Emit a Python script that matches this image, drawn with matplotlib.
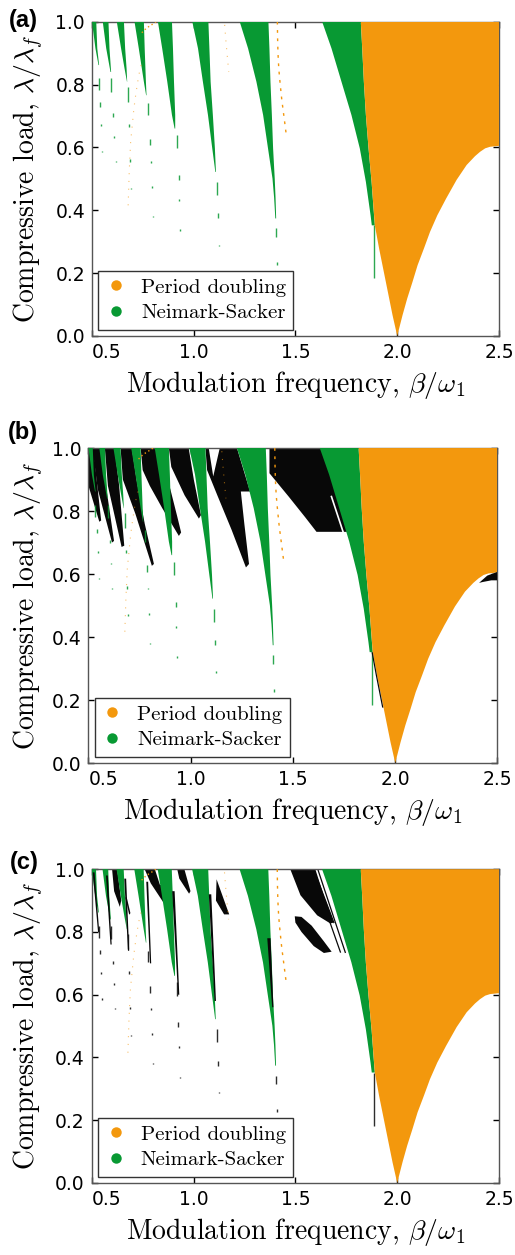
import matplotlib
matplotlib.use('Agg')
import matplotlib.pyplot as plt
from matplotlib.lines import Line2D

plt.rcParams['mathtext.fontset'] = 'cm'

ORANGE = '#f3980d'
GREEN = '#089933'
BLACK = '#080808'

# --- period doubling tongue around beta/omega1 = 2 ---
pd_left_y = [1.0, 0.915, 0.809, 0.703, 0.597, 0.49, 0.352, 0.278, 0.172, 0.066, 0.0]
pd_left_x = [1.821, 1.828, 1.836, 1.846, 1.859, 1.874, 1.890, 1.911, 1.944, 1.977, 2.0]
pd_right_y = [0.0, 0.066, 0.119, 0.172, 0.225, 0.278, 0.331, 0.384, 0.437, 0.497,
              0.544, 0.572, 0.586, 0.597, 0.602, 0.605]
pd_right_x = [2.0, 2.026, 2.049, 2.075, 2.100, 2.131, 2.161, 2.197, 2.240, 2.292,
              2.341, 2.382, 2.407, 2.432, 2.456, 2.5]

# --- Neimark-Sacker tongues: (load levels, left edge, right edge) ---
ns_y = [
    [1.0, 0.915, 0.809, 0.703, 0.597, 0.49, 0.384, 0.352],
    [1.0, 0.915, 0.809, 0.703, 0.597, 0.501, 0.44, 0.374],
    [1.0, 0.915, 0.809, 0.703, 0.597, 0.538, 0.522],
    [1.0, 0.915, 0.809, 0.703, 0.66],
    [1.0, 0.915, 0.809, 0.766],
    [1.0, 0.915, 0.851, 0.809],
    [1.0, 0.915, 0.84],
    [1.0, 0.915, 0.862],
]
ns_left = [
    [1.631, 1.677, 1.726, 1.775, 1.816, 1.846, 1.869, 1.875],
    [1.226, 1.267, 1.308, 1.341, 1.365, 1.387, 1.395, 1.401],
    [0.993, 1.021, 1.045, 1.070, 1.091, 1.103, 1.106],
    [0.824, 0.845, 0.870, 0.893, 0.906],
    [0.709, 0.730, 0.755, 0.766],
    [0.622, 0.643, 0.660, 0.672],
    [0.553, 0.570, 0.591],
    [0.500, 0.517, 0.532],
]
ns_right = [
    [1.821, 1.828, 1.836, 1.846, 1.859, 1.874, 1.886, 1.890],
    [1.367, 1.372, 1.377, 1.384, 1.390, 1.398, 1.402, 1.405],
    [1.072, 1.077, 1.083, 1.094, 1.104, 1.108, 1.109],
    [0.893, 0.898, 0.903, 0.909, 0.909],
    [0.755, 0.759, 0.765, 0.768],
    [0.657, 0.663, 0.670, 0.673],
    [0.581, 0.586, 0.594],
    [0.521, 0.526, 0.535],
]

# broken continuation of the tongues below their tips
dash_x = [1.884, 1.403, 1.408, 1.116, 1.119, 1.124, 0.918, 0.926, 0.929, 0.934,
          0.775, 0.786, 0.791, 0.796, 0.800, 0.678, 0.683, 0.688, 0.694,
          0.594, 0.603, 0.609, 0.616, 0.534, 0.540, 0.545, 0.550]
dash_top = [0.352, 0.342, 0.236, 0.49, 0.39, 0.291, 0.639, 0.512, 0.435, 0.339,
            0.74, 0.628, 0.557, 0.477, 0.381, 0.793, 0.676, 0.562, 0.472,
            0.82, 0.708, 0.636, 0.557, 0.82, 0.743, 0.673, 0.589]
dash_bot = [0.183, 0.315, 0.225, 0.448, 0.374, 0.287, 0.597, 0.496, 0.429, 0.335,
            0.703, 0.607, 0.551, 0.471, 0.378, 0.745, 0.666, 0.554, 0.467,
            0.777, 0.697, 0.631, 0.553, 0.782, 0.729, 0.667, 0.584]

# faint period doubling traces
pd_trace1_x = [1.411, 1.412, 1.414, 1.418, 1.425, 1.433, 1.443, 1.456]
pd_trace1_y = [1.0, 0.95, 0.90, 0.85, 0.80, 0.75, 0.70, 0.634]
pd_trace2_x = [0.742, 0.730, 0.717, 0.706, 0.698, 0.690, 0.683, 0.677]
pd_trace2_y = [0.862, 0.83, 0.777, 0.724, 0.671, 0.618, 0.522, 0.40]
pd_trace3_x = [1.152, 1.158, 1.165, 1.172]
pd_trace3_y = [0.99, 0.94, 0.89, 0.84]
pd_arc_x = [0.745, 0.76, 0.78, 0.80, 0.815]
pd_arc_y = [0.965, 0.975, 0.985, 0.993, 1.0]

# --- black regions, panel (b) ---
b_big = [(1.385, 1.0), (1.70, 1.0), (1.80, 0.734), (1.615, 0.734), (1.56, 0.78),
         (1.48, 0.845), (1.385, 0.92)]
b_w8 = [(0.5, 1.0), (0.525, 1.0), (0.54, 0.90), (0.562, 0.77), (0.553, 0.766),
        (0.5, 0.88)]
b_w7 = [(0.52, 1.0), (0.565, 1.0), (0.59, 0.86), (0.625, 0.705), (0.615, 0.70),
        (0.545, 0.87)]
b_w6 = [(0.58, 1.0), (0.628, 1.0), (0.65, 0.88), (0.675, 0.69), (0.662, 0.686),
        (0.595, 0.88)]
b_wd = [(0.657, 1.0), (0.712, 1.0), (0.735, 0.90), (0.775, 0.76), (0.82, 0.632),
        (0.81, 0.626), (0.73, 0.79), (0.668, 0.90)]
b_wa = [(0.755, 1.0), (0.83, 1.0), (0.90, 0.87), (0.935, 0.78), (0.953, 0.732),
        (0.942, 0.721), (0.86, 0.81), (0.80, 0.88), (0.765, 0.93)]
b_wb = [(0.893, 1.0), (0.99, 1.0), (1.015, 0.90), (1.05, 0.787), (1.04, 0.776),
        (0.97, 0.85), (0.905, 0.94)]
b_wc = [(1.072, 1.0), (1.226, 1.0), (1.29, 0.862), (1.245, 0.862), (1.262, 0.76),
        (1.285, 0.632), (1.27, 0.621), (1.20, 0.74), (1.13, 0.85), (1.08, 0.93)]
b_notch = [(1.088, 1.0), (1.142, 1.0), (1.11, 0.91)]
b_crescent = [(2.41, 0.572), (2.45, 0.595), (2.5, 0.607), (2.5, 0.58), (2.47, 0.58),
              (2.43, 0.575)]
b_sliver = [(1.890, 0.352), (1.911, 0.278), (1.942, 0.176), (1.936, 0.176),
            (1.905, 0.278), (1.884, 0.352)]

# --- black regions, panel (c) ---
c_top = [(1.475, 1.0), (1.598, 1.0), (1.639, 0.917), (1.672, 0.86), (1.688, 0.83),
         (1.672, 0.827), (1.607, 0.853), (1.525, 0.917)]
c_blob = [(1.497, 0.85), (1.53, 0.848), (1.58, 0.82), (1.64, 0.77), (1.678, 0.737),
          (1.64, 0.733), (1.59, 0.755), (1.53, 0.80), (1.50, 0.83)]
c_tri = [(1.113, 0.968), (1.175, 0.856), (1.15, 0.856), (1.110, 0.90)]
c_line1 = [(1.607, 0.97), (1.689, 0.83)]
c_line2 = [(1.623, 0.917), (1.721, 0.736)]
c_line3 = [(1.61, 1.0), (1.745, 0.735)]
c_strip2 = [(1.362, 0.78), (1.378, 0.78), (1.392, 0.56), (1.386, 0.56)]
c_strip3 = [(1.075, 0.92), (1.087, 0.92), (1.11, 0.58), (1.103, 0.58)]
c_strip4 = [(0.895, 0.93), (0.907, 0.93), (0.93, 0.60), (0.924, 0.60)]
c_strip5 = [(0.768, 0.96), (0.777, 0.96), (0.792, 0.70), (0.786, 0.70)]
c_strip6 = [(0.66, 0.97), (0.669, 0.97), (0.684, 0.74), (0.678, 0.74)]
c_strip7 = [(0.57, 0.98), (0.579, 0.98), (0.598, 0.76), (0.592, 0.76)]
c_strip8 = [(0.505, 0.99), (0.514, 0.99), (0.537, 0.80), (0.531, 0.80)]
c_wedge1 = [(0.60, 1.0), (0.625, 1.0), (0.645, 0.90), (0.638, 0.88), (0.61, 0.93)]
c_wedge2 = [(0.76, 1.0), (0.81, 1.0), (0.86, 0.90), (0.853, 0.893), (0.79, 0.955)]
c_wedge3 = [(0.92, 1.0), (0.955, 1.0), (0.985, 0.93), (0.978, 0.922), (0.93, 0.97)]
c_wedge4 = [(0.665, 0.91), (0.672, 0.91), (0.69, 0.86), (0.684, 0.855)]
c_wedge5 = [(0.83, 0.95), (0.84, 0.95), (0.875, 0.88), (0.868, 0.876)]

panel_tags = ['(a)', '(b)', '(c)']
tag_pos = [(9, 9), (8, 421), (10, 851)]
boxes = [[0.1786, 0.7323, 0.7903, 0.2504],
         [0.1718, 0.3920, 0.7942, 0.2510],
         [0.1781, 0.0574, 0.7909, 0.2500]]
ylab_x = [-0.113, -0.103, -0.112]

W, H = 515, 1255
fig = plt.figure(figsize=(W / 100, H / 100), dpi=100)


def draw_common(ax, dash_color):
    for ys, xl, xr in zip(ns_y, ns_left, ns_right):
        ax.fill(xl + xr[::-1], ys + ys[::-1], color=GREEN, lw=0, zorder=3)
    ax.vlines(dash_x, dash_bot, dash_top, color=dash_color, lw=1.0, alpha=0.85, zorder=3)
    ax.fill(pd_left_x + pd_right_x + [2.5], pd_left_y + pd_right_y + [1.0],
            color=ORANGE, lw=0, zorder=4)
    ax.plot(pd_trace1_x, pd_trace1_y, color=ORANGE, lw=1.0, ls=(0, (2, 4)), zorder=5)
    ax.plot(pd_trace2_x, pd_trace2_y, color=ORANGE, lw=0.8, ls=(0, (1, 6)), alpha=0.6,
            zorder=5)
    ax.plot(pd_trace3_x, pd_trace3_y, color=ORANGE, lw=0.8, ls=(0, (1, 6)), alpha=0.6,
            zorder=5)
    ax.plot(pd_arc_x, pd_arc_y, color=ORANGE, lw=1.0, ls=(0, (1, 2)), zorder=5)


def black(ax, poly, z=2, color=BLACK):
    xs, ys = zip(*poly)
    ax.fill(xs, ys, color=color, lw=0, zorder=z)


for i, box in enumerate(boxes):
    ax = fig.add_axes(box)
    if i == 1:
        for poly in [b_big, b_w8, b_w7, b_w6, b_wd, b_wa, b_wb, b_wc]:
            black(ax, poly)
        black(ax, b_notch, 2.2, 'white')
        black(ax, b_crescent, 5)
        black(ax, b_sliver, 5)
        ax.plot([1.688, 1.745], [0.846, 0.734], color='white', lw=1.2, zorder=2.5)
    if i == 2:
        for poly in [c_top, c_blob, c_tri, c_wedge1, c_wedge2, c_wedge3, c_wedge4,
                     c_wedge5]:
            black(ax, poly)
        for ln in [c_line1, c_line2, c_line3]:
            xs, ys = zip(*ln)
            ax.plot(xs, ys, color=BLACK, lw=0.9, zorder=2)
        for poly in [c_strip2, c_strip3, c_strip4, c_strip5, c_strip6, c_strip7, c_strip8]:
            black(ax, poly, 3.5)
    draw_common(ax, BLACK if i == 2 else GREEN)

    ax.set_xlim(0.5, 2.5)
    ax.set_ylim(0.0, 1.0)
    ax.set_xticks([0.5, 1.0, 1.5, 2.0, 2.5])
    ax.set_yticks([0.0, 0.2, 0.4, 0.6, 0.8, 1.0])
    ax.tick_params(direction='in', top=True, right=True, length=4, width=1,
                   labelsize=13.5, pad=5, colors='black')
    ax.get_xticklabels()[0].set_horizontalalignment('left')
    for s in ax.spines.values():
        s.set_color('#555555')
        s.set_linewidth(1.0)
    ax.set_xlabel(r'Modulation frequency, $\beta/\omega_1$', family='cmr10', fontsize=20,
                  labelpad=5)
    ax.set_ylabel(r'Compressive load, $\lambda/\lambda_f$', family='cmr10', fontsize=20)
    ax.yaxis.set_label_coords(ylab_x[i], 0.5)

    handles = [Line2D([], [], ls='none', marker='o', ms=7.5, color=ORANGE, mec='none'),
               Line2D([], [], ls='none', marker='o', ms=7.5, color=GREEN, mec='none')]
    leg = ax.legend(handles, ['Period doubling', 'Neimark-Sacker'], loc='lower left',
                    prop={'family': 'cmr10', 'size': 15}, fancybox=False,
                    framealpha=1, edgecolor='#333333', borderaxespad=0.3,
                    handletextpad=0.7, labelspacing=0.35, borderpad=0.35,
                    handlelength=1.0)
    leg.get_frame().set_linewidth(1.0)
    leg.set_zorder(10)

    tx, ty = tag_pos[i]
    fig.text(tx / W, 1 - ty / H, panel_tags[i], ha='left', va='top',
             family='Liberation Sans', fontweight='bold', fontsize=17)

fig.savefig('out.png', dpi=100)
